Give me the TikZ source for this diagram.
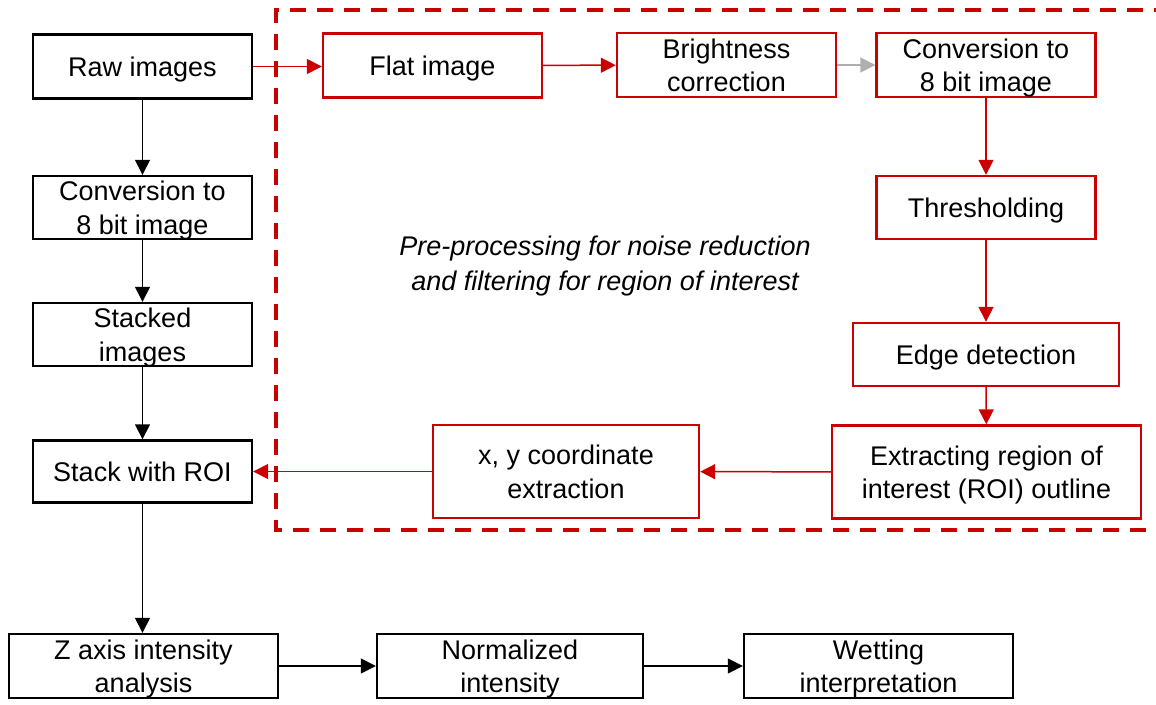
\documentclass[tikz,border=0pt]{standalone}
\usepackage{fontspec}
\setmainfont{Liberation Sans}
\usetikzlibrary{arrows.meta}
\definecolor{procred}{RGB}{204,0,0}
\definecolor{framered}{RGB}{200,0,0}
\definecolor{softgray}{RGB}{175,175,175}
\tikzset{
  box/.style={draw=black, line width=2.4pt, fill=white, inner sep=0pt, align=center,
    text depth=0pt, font=\fontsize{27}{33.5}\selectfont},
  redbox/.style={box, draw=procred},
  flow/.style={line width=1.5pt, -{Triangle[length=15pt,width=15pt]}},
  blackflow/.style={flow, draw=black},
  redflow/.style={flow, draw=procred, fill=procred},
  grayflow/.style={flow, draw=softgray, fill=softgray},
  frame/.style={draw=framered, line width=3.8pt, dash pattern=on 16pt off 11pt},
}
\begin{document}
\begin{tikzpicture}[x=1pt, y=-1pt]
\useasboundingbox (0,0) rectangle (1156,704);
\clip (0,0) rectangle (1156,704);

% dashed region of the pre-processing stage
\draw[frame] (1170,10) -- (276,10) -- (276,530) -- (1170,530);

% main column
\node[box, minimum width=219pt, minimum height=64pt] (raw) at (142.5,66.5) {Raw images};
\node[box, minimum width=219pt, minimum height=63pt] (conv) at (142.5,207.5) {Conversion to\\8 bit image};
\node[box, minimum width=219pt, minimum height=63pt] (stack) at (142.5,334.5) {Stacked\\images};
\node[box, minimum width=219pt, minimum height=62pt] (roi) at (142.5,471.5) {Stack with ROI};

% bottom row
\node[box, minimum width=269pt, minimum height=64pt] (zaxis) at (143.5,666) {Z axis intensity\\analysis};
\node[box, minimum width=266pt, minimum height=64pt] (norm) at (510,666) {Normalized\\intensity};
\node[box, minimum width=269pt, minimum height=64pt] (wet) at (878.5,666) {Wetting\\interpretation};

% pre-processing chain
\node[redbox, minimum width=219pt, minimum height=64pt] (flat) at (432.5,65.5) {Flat image};
\node[redbox, minimum width=219pt, minimum height=64pt] (bright) at (726.5,65) {Brightness\\correction};
\node[redbox, minimum width=219pt, minimum height=64pt] (conv8) at (986,65) {Conversion to\\8 bit image};
\node[redbox, minimum width=219pt, minimum height=63pt] (thresh) at (986,207.5) {Thresholding};
\node[redbox, minimum width=266pt, minimum height=63pt] (edge) at (986,354.5) {Edge detection};
\node[redbox, minimum width=309pt, minimum height=93pt] (extract) at (986.5,472) {Extracting region of\\interest (ROI) outline};
\node[redbox, minimum width=266pt, minimum height=93pt] (xy) at (566,471.5) {x, y coordinate\\extraction};

\node[align=center, text depth=0pt, font=\fontsize{27}{35}\selectfont\itshape] (note) at (605,263)
  {Pre-processing for noise reduction\\and filtering for region of interest};

% connectors
\draw[blackflow] (raw) -- (conv);
\draw[blackflow] (conv) -- (stack);
\draw[blackflow] (stack) -- (roi);
\draw[blackflow] (roi) -- (zaxis.north -| roi.south);
\draw[blackflow] (zaxis) -- (norm);
\draw[blackflow] (norm) -- (wet);

\draw[redflow] (raw.east) -- (flat.west |- raw.east);
\draw[redflow] (flat) -- (bright);
\draw[grayflow] (bright) -- (conv8);
\draw[redflow] (conv8) -- (thresh);
\draw[redflow] (thresh) -- (edge);
\draw[redflow] (edge) -- (extract);
\draw[redflow] (extract) -- (xy);
\draw[redflow] (xy.west) -- (roi.east |- xy.west);
\end{tikzpicture}
\end{document}
